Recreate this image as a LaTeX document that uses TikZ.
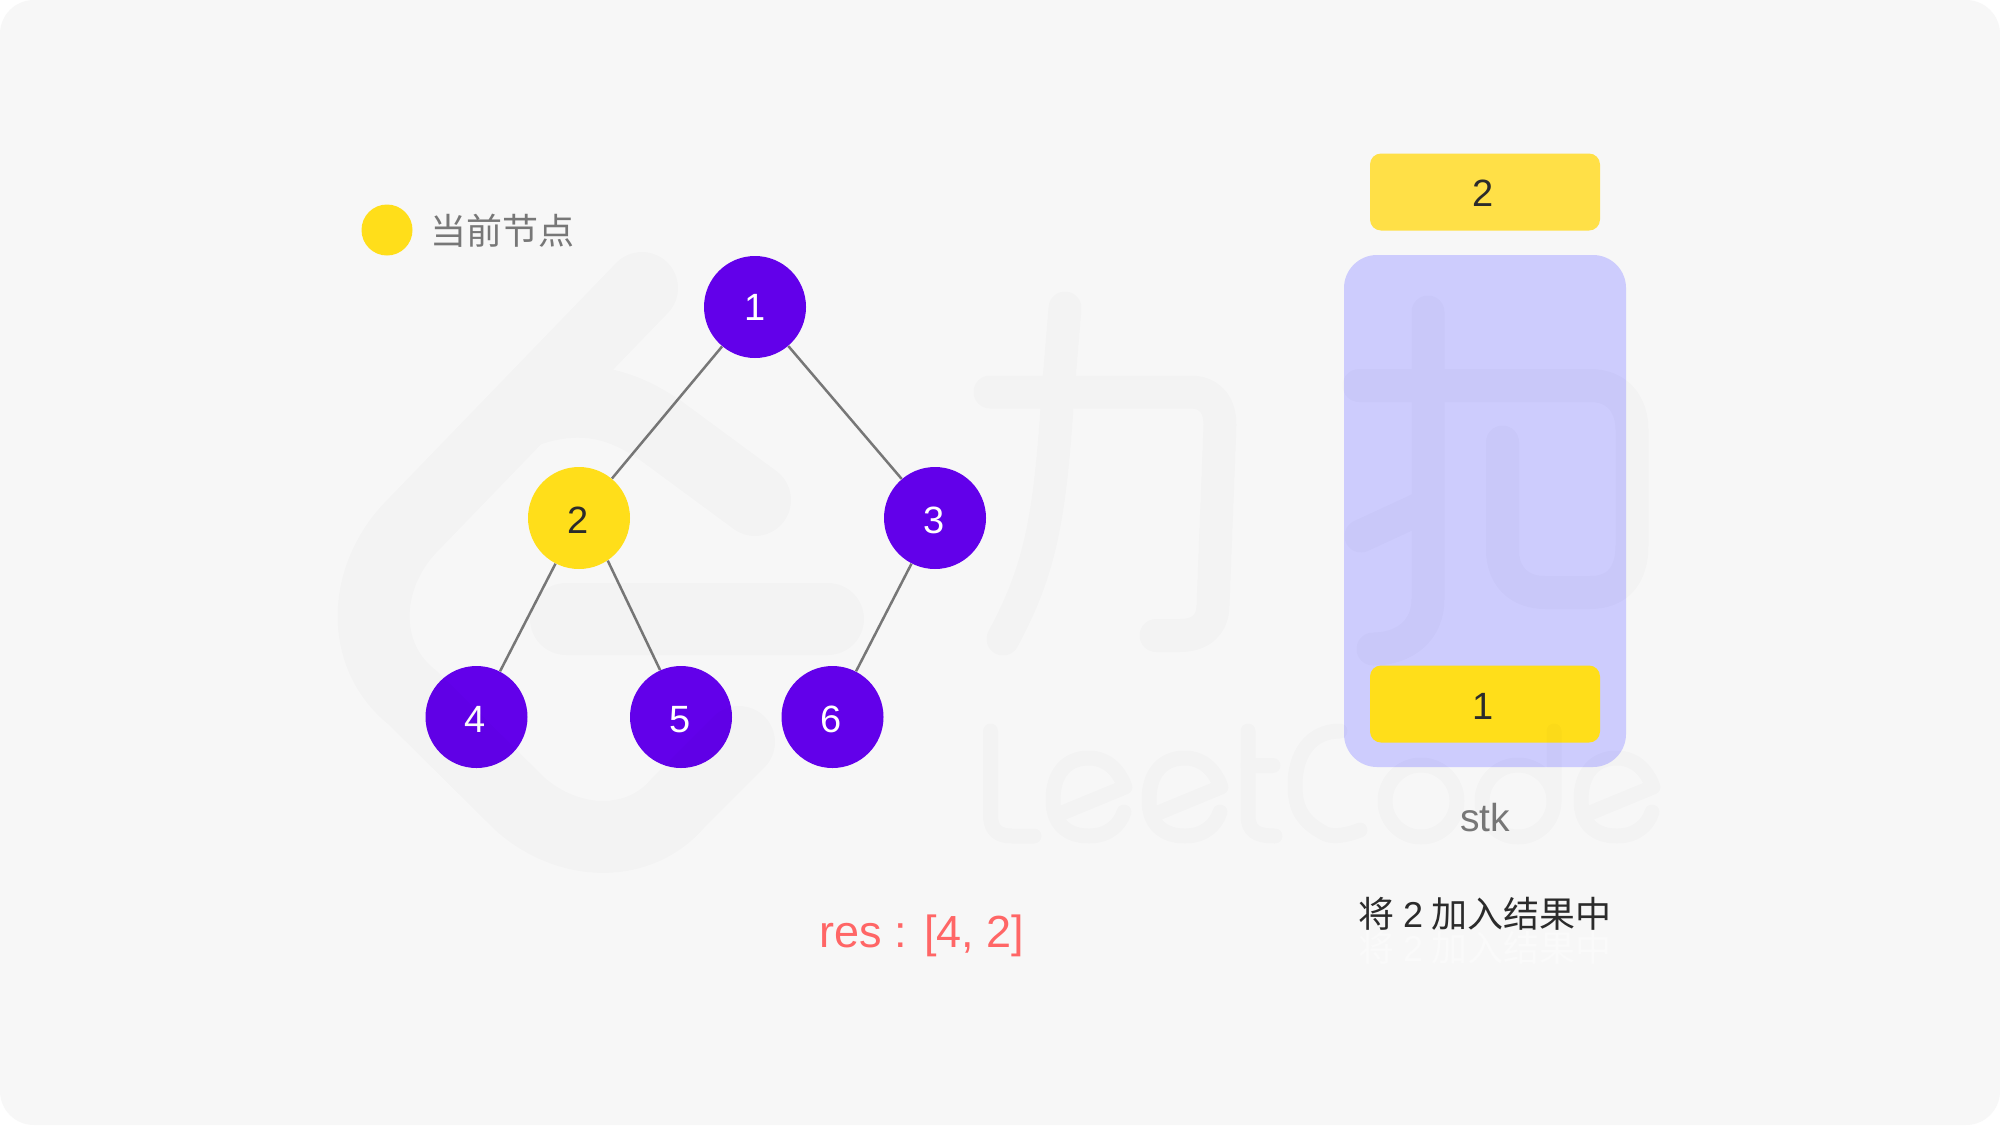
\documentclass[tikz,border=0pt]{standalone}
\usepackage{fontspec}
\setmainfont{Liberation Sans}
\newfontfamily\cjk{Noto Sans CJK SC}
\usetikzlibrary{calc}
\definecolor{bgc}{HTML}{F7F7F7}
\definecolor{purp}{HTML}{6200EA}
\definecolor{yel}{HTML}{FFDE1A}
\definecolor{yeltop}{HTML}{FFE047}
\definecolor{stackc}{HTML}{CDCCFD}
\definecolor{inkc}{HTML}{2B2B2B}
\definecolor{grayc}{HTML}{777777}
\definecolor{redc}{HTML}{FF6666}
\newcommand\dgt[3]{\raisebox{\dimexpr-#2\relax}[0pt][0pt]{\makebox[0pt]{\hspace{#1}#3}}}
\tikzset{
  x=0.5pt,y=-0.5pt,
  tnode/.style={circle,inner sep=0pt,minimum size=51pt,font=\fontsize{19}{19}\selectfont},
  pnode/.style={tnode,fill=purp,text=white},
  ynode/.style={tnode,fill=yel,text=inkc},
  edgeline/.style={draw=grayc,line width=1.25pt},
  sbox/.style={rectangle,rounded corners=5.5pt,inner sep=0pt,minimum width=115pt,minimum height=38.5pt,text=inkc,font=\fontsize{19}{19}\selectfont},
  wm/.style={line cap=round,line join=round,draw=black},
  lbl/.style={inner sep=0pt,font=\fontsize{18}{18}\selectfont},
}
\begin{document}
\begin{tikzpicture}
\useasboundingbox (0,0) rectangle (2000,1125);
\fill[white] (0,0) rectangle (2000,1125);
\fill[bgc,rounded corners=17pt] (0,0) rectangle (2000,1125);
% tree
\node[pnode] (n1) at (755,307) {\dgt{0pt}{6.9pt}{1}};
\node[ynode] (n2) at (579,518) {\dgt{-1pt}{7.65pt}{2}};
\node[pnode] (n3) at (935,518) {\dgt{-1pt}{7.65pt}{3}};
\node[pnode] (n4) at (476.5,717) {\dgt{-1.5pt}{7.65pt}{4}};
\node[pnode] (n5) at (681,717) {\dgt{-0.5pt}{7.65pt}{5}};
\node[pnode] (n6) at (832.5,717) {\dgt{-1.5pt}{7.65pt}{6}};
\draw[edgeline] (n1) -- (n2);
\draw[edgeline] (n1) -- (n3);
\draw[edgeline] (n2) -- (n4);
\draw[edgeline] (n2.-56.6) -- (n5.114.5);
\draw[edgeline] (n3) -- (n6);
% legend
\node[circle,inner sep=0pt,minimum size=25.5pt,fill=yel] (legdot) at (387,230) {};
\node[lbl,text=grayc,anchor=center] (legtxt) at (502,231) {\cjk 当前节点};
% stack
\node[rectangle,fill=stackc,rounded corners=16.5pt,inner sep=0pt,minimum width=141pt,minimum height=256pt] (stack) at (1485,511) {};
\node[sbox,fill=yeltop] (top) at (1485,192) {\dgt{-1.5pt}{7.2pt}{2}};
\node[sbox,fill=yel] (bot) at (1485,704) {\dgt{-1.5pt}{7.65pt}{1}};
\node[inner sep=0pt,text=grayc,font=\fontsize{19.5}{19.5}\selectfont] (stk) at (1485,818) {stk};
\node[lbl,text=inkc] (msg) at (1485,914) {\cjk 将 {\fontspec{Liberation Sans}2} 加入结果中};
\node[lbl,text=white!40!bgc] (ghost) at (1485,948) {\cjk 将 {\fontspec{Liberation Sans}2} 加入结果中};
\node[inner sep=0pt,text=redc,font=\fontsize{22.5}{22.5}\selectfont] (res) at (922,936) {res : [4, 2]};
% watermark overlay
\begin{scope}[transparency group,opacity=0.015]
  \begin{scope}[wm,line width=36pt]
    \draw (642,288) -- (413,525) .. controls (363,575) and (358,655) .. (413,698) -- (520,804) .. controls (570,848) and (640,848) .. (678,803) -- (739,742);
    \draw (530,410) .. controls (590,390) and (630,410) .. (660,430) -- (755,500);
    \draw (566,619) -- (828,619);
  \end{scope}
  \begin{scope}[wm,line width=16.5pt]
    \draw (990,392) -- (1190,392) .. controls (1210,392) and (1220,405) .. (1220,425) -- (1213,605) .. controls (1213,625) and (1200,635.5) .. (1180,635.5) -- (1156,635.5);
    \draw (1065,308) -- (1058,392) .. controls (1050,520) and (1040,570) .. (1003,639);
    \draw (1428,312) -- (1428,599) .. controls (1428,630) and (1405,649) .. (1373,649);
    \draw (1359,385.5) -- (1590,385.5) .. controls (1618,385.5) and (1632,405) .. (1632,430) -- (1632,545) .. controls (1632,575) and (1618,592.5) .. (1590,592.5) -- (1545,592.5) .. controls (1518,592.5) and (1502.5,575) .. (1502.5,550) -- (1502.5,442);
    \draw (1361,536) -- (1428,505);
  \end{scope}
  \begin{scope}[wm,line width=7.5pt]
    \draw (990.5,731) -- (990.5,815) .. controls (990.5,830) and (998,836) .. (1012,836) -- (1034,836);
    \draw (1248,731) -- (1248,815) .. controls (1248,830) and (1255,836) .. (1275,836);
    \draw (1248,765.5) -- (1273,765.5);
    \draw (1360,830) .. controls (1345,836) and (1330,838) .. (1322,832) .. controls (1300,820) and (1295,805) .. (1295,785) .. controls (1295,755) and (1310,731) .. (1340,731);
    \draw (1421,801) circle[x radius=36,y radius=36];
    \draw (1518,801) circle[x radius=36,y radius=36];
    \draw (1554,731) -- (1554,801);
    \foreach \s in {0,96,528}{
      \begin{scope}[xshift=\s*0.5pt]
        \draw (1062,813) -- (1125,787) .. controls (1118,768) and (1105,758) .. (1089,758) .. controls (1065,758) and (1053,775) .. (1053,800) .. controls (1053,825) and (1068,836) .. (1089,836) .. controls (1108,836) and (1120,825) .. (1124,812);
      \end{scope}
    }
  \end{scope}
\end{scope}
\end{tikzpicture}
\end{document}
